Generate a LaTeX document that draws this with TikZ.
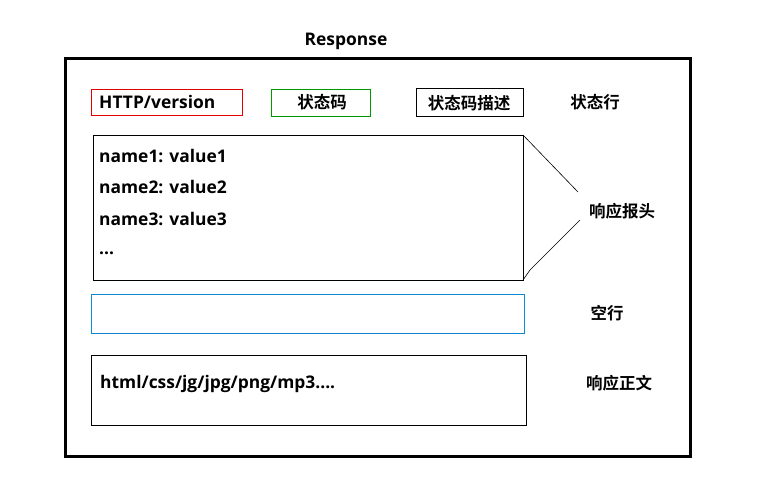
\documentclass[tikz,border=0pt]{standalone}
\usepackage{fontspec}
\setmainfont{Open Sans}
\newfontfamily\cjk{Noto Sans CJK SC}[BoldFont={Noto Sans CJK SC Bold}]
\begin{document}
\begin{tikzpicture}[x=1pt,y=-1pt,
  box/.style={draw,line width=1pt},
  lbl/.style={font=\cjk\bfseries\fontsize{16.5}{18}\selectfont,inner sep=0pt},
  lat/.style={font=\bfseries\fontsize{17.4}{18}\selectfont,inner sep=0pt},
  ltxt/.style={lat,anchor=west}]
\useasboundingbox (0,0) rectangle (779,485);
\draw[line width=3pt] (65,58) rectangle (690,456);
\node[lat] (resp) at (346,41) {Response};
% status line
\draw[box,red!90!black] (91,89) rectangle (242,115);
\node[ltxt] (http) at (99,102) {HTTP/version};
\draw[box,green!60!black] (271,89) rectangle (370,116);
\node[lbl] (code) at (322,102) {状态码};
\draw[box] (416,88) rectangle (523,116);
\node[lbl] (desc) at (469,103) {状态码描述};
\node[lbl] (sline) at (595,102) {状态行};
% headers
\draw[box] (93,135) rectangle (523,280);
\node[ltxt] (n1) at (99,156) {name1: value1};
\node[ltxt] (n2) at (99,187) {name2: value2};
\node[ltxt] (n3) at (99,219) {name3: value3};
\node[ltxt] (n4) at (99,253) {...};
\node[lbl] (hdr) at (622,211) {响应报头};
\coordinate (t1) at (523,135);
\coordinate (t2) at (578,192);
\coordinate (b1) at (580,220);
\coordinate (b2) at (523,280);
\draw[line width=0.6pt] (t1) -- (t2);
\draw[line width=0.6pt] (b1) -- (530,270) -- (b2);
% blank line
\draw[box,cyan!70!blue] (91,294) rectangle (524,333);
\node[lbl] (blank) at (607,313) {空行};
% body
\draw[box] (91,355) rectangle (526,425);
\node[ltxt] (body) at (100,384) {html/css/jg/jpg/png/mp3....};
\node[lbl] (bodyl) at (619,383) {响应正文};
\end{tikzpicture}
\end{document}
